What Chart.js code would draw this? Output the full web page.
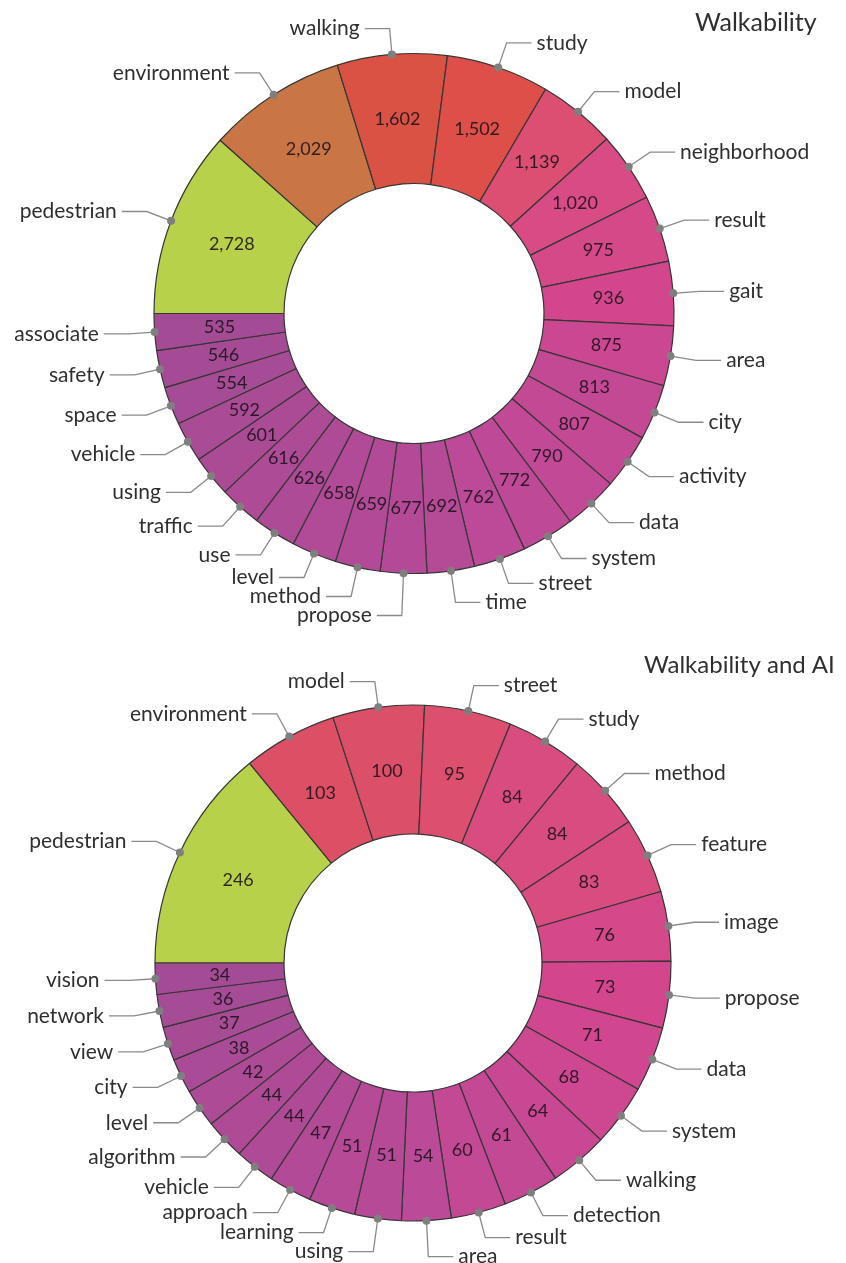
<!DOCTYPE html>
<html>
<head>
<meta charset="utf-8">
<script src="https://cdn.jsdelivr.net/npm/chart.js@4.4.1/dist/chart.umd.min.js"></script>
<style>
  html, body { margin: 0; padding: 0; background: #ffffff; }
  #wrap { position: relative; width: 846px; height: 1263px; }
  canvas { position: absolute; left: 0; }
</style>
</head>
<body>
<div id="wrap">
  <canvas id="walkChart" width="846" height="640" style="top:0px"></canvas>
  <canvas id="aiChart" width="846" height="623" style="top:640px"></canvas>
</div>
<script>
// Term frequencies, listed clockwise starting from the 9 o'clock position
const walkTerms = ['pedestrian', 'environment', 'walking', 'study', 'model', 'neighborhood', 'result', 'gait',
  'area', 'city', 'activity', 'data', 'system', 'street', 'time', 'propose', 'method', 'level', 'use',
  'traffic', 'using', 'vehicle', 'space', 'safety', 'associate'];
const walkCounts = [2728, 2029, 1602, 1502, 1139, 1020, 975, 936, 875, 813, 807, 790, 772, 762, 692, 677,
  659, 658, 626, 616, 601, 592, 554, 546, 535];

const aiTerms = ['pedestrian', 'environment', 'model', 'street', 'study', 'method', 'feature', 'image',
  'propose', 'data', 'system', 'walking', 'detection', 'result', 'area', 'using', 'learning', 'approach',
  'vehicle', 'algorithm', 'level', 'city', 'view', 'network', 'vision'];
const aiCounts = [246, 103, 100, 95, 84, 84, 83, 76, 73, 71, 68, 64, 61, 60, 54, 51, 51, 47, 44, 44, 42,
  38, 37, 36, 34];

const FONT = 'Lato, "Open Sans", sans-serif';

// Sequential colour ramp: low counts purple -> magenta -> red -> orange -> lime for the top term
const rampStops = [
  [0.00, '#a44b95'], [0.10, '#bc4a98'], [0.18, '#d3468f'], [0.22, '#d84b84'],
  [0.28, '#dc4f70'], [0.44, '#dd4f48'], [0.49, '#d95243'], [0.68, '#c97545'], [1.00, '#b7d14a']
];
function hexRgb(h) {
  const n = parseInt(h.slice(1), 16);
  return [(n >> 16) & 255, (n >> 8) & 255, n & 255];
}
function rampColor(v, lo, hi) {
  const t = (v - lo) / (hi - lo);
  for (let i = 1; i < rampStops.length; i++) {
    const [t1, c1] = rampStops[i];
    const [t0, c0] = rampStops[i - 1];
    if (t <= t1) {
      const f = (t - t0) / (t1 - t0);
      const a = hexRgb(c0), b = hexRgb(c1);
      return `rgb(${a.map((x, k) => Math.round(x + (b[k] - x) * f)).join(',')})`;
    }
  }
  return rampStops[rampStops.length - 1][1];
}

// Draws the in-slice counts, the dotted leader lines with term labels, and the chart heading
const ringLabels = {
  id: 'ringLabels',
  afterDatasetsDraw(chart, args, opts) {
    const ctx = chart.ctx;
    const arcs = chart.getDatasetMeta(0).data;
    const labels = chart.data.labels;
    const values = chart.data.datasets[0].data;
    if (!arcs.length) return;
    const cy = arcs[0].y;
    ctx.save();

    // counts inside the ring
    ctx.font = `${opts.valueSize}px ${FONT}`;
    ctx.fillStyle = opts.valueColor;
    ctx.textAlign = 'center';
    ctx.textBaseline = 'middle';
    arcs.forEach((arc, i) => {
      const mid = (arc.startAngle + arc.endAngle) / 2;
      const r = (arc.innerRadius + arc.outerRadius) / 2;
      ctx.fillText(values[i].toLocaleString('en-US'), arc.x + r * Math.cos(mid), arc.y + r * Math.sin(mid));
    });

    // leader geometry
    ctx.font = `${opts.labelSize}px ${FONT}`;
    const items = arcs.map((arc, i) => {
      const mid = (arc.startAngle + arc.endAngle) / 2;
      const dx = Math.cos(mid), dy = Math.sin(mid);
      const px = arc.x + arc.outerRadius * dx, py = arc.y + arc.outerRadius * dy;
      return {
        text: labels[i], dx, dy, px, py, side: dx < 0 ? -1 : 1,
        ex: px + opts.tick * dx, ey: py + opts.tick * dy,
        w: ctx.measureText(labels[i]).width
      };
    });
    const span = it => {
      const far = it.ex + it.side * (opts.arm + opts.textGap + it.w);
      return it.side > 0 ? [it.ex, far] : [far, it.ex];
    };
    const overlapX = (a, b) => { const s = span(a), t = span(b); return s[0] < t[1] && t[0] < s[1]; };
    const moveTo = (it, y) => {
      it.ey = y;
      if (Math.abs(it.dy) > 0.2) it.ex = it.px + it.dx * (y - it.py) / it.dy;
    };
    [-1, 1].forEach(side => {
      const lower = items.filter(it => it.side === side && it.ey > cy).sort((a, b) => a.ey - b.ey);
      const upper = items.filter(it => it.side === side && it.ey <= cy).sort((a, b) => b.ey - a.ey);
      const placedLow = [];
      lower.forEach(it => {
        placedLow.forEach(p => {
          if (overlapX(it, p) && it.ey < p.ey + opts.minGap) moveTo(it, p.ey + opts.minGap);
        });
        placedLow.push(it);
      });
      const placedUp = [];
      upper.forEach(it => {
        placedUp.forEach(p => {
          if (overlapX(it, p) && it.ey > p.ey - opts.minGap) moveTo(it, p.ey - opts.minGap);
        });
        placedUp.push(it);
      });
    });

    // leader lines, dots and term labels
    items.forEach(it => {
      const x2 = it.ex + it.side * opts.arm;
      ctx.strokeStyle = opts.lineColor;
      ctx.lineWidth = opts.lineWidth;
      ctx.beginPath();
      ctx.moveTo(it.px, it.py);
      ctx.lineTo(it.ex, it.ey);
      ctx.lineTo(x2, it.ey);
      ctx.stroke();
      ctx.fillStyle = opts.dotColor;
      ctx.beginPath();
      ctx.arc(it.px, it.py, opts.dotRadius, 0, Math.PI * 2);
      ctx.fill();
      ctx.fillStyle = opts.labelColor;
      ctx.textAlign = it.side > 0 ? 'left' : 'right';
      ctx.textBaseline = 'middle';
      ctx.fillText(it.text, x2 + it.side * opts.textGap, it.ey);
    });

    // heading
    ctx.font = `${opts.headingSize}px ${FONT}`;
    ctx.fillStyle = opts.labelColor;
    ctx.textAlign = 'left';
    ctx.textBaseline = 'alphabetic';
    ctx.fillText(opts.heading, opts.headingX, opts.headingY);
    ctx.restore();
  }
};

function makeRing(canvasId, terms, counts, cfg) {
  const lo = Math.min(...counts), hi = Math.max(...counts);
  const half = 270;
  return new Chart(document.getElementById(canvasId), {
    type: 'doughnut',
    data: {
      labels: terms,
      datasets: [{
        data: counts,
        backgroundColor: counts.map(v => rampColor(v, lo, hi)),
        borderColor: '#363636',
        borderWidth: 1.2
      }]
    },
    options: {
      responsive: false,
      animation: false,
      rotation: -90,
      radius: cfg.radius,
      cutout: '50%',
      layout: {
        padding: {
          left: cfg.cx - half,
          right: 846 - cfg.cx - half,
          top: cfg.cy - half,
          bottom: cfg.height - cfg.cy - half
        }
      },
      plugins: {
        legend: { display: false },
        tooltip: { enabled: false },
        ringLabels: {
          heading: cfg.heading, headingX: cfg.headingX, headingY: cfg.headingY, headingSize: cfg.headingSize,
          valueSize: 18, valueColor: 'rgba(25,18,25,0.88)',
          labelSize: 21, labelColor: '#2f2f2f',
          tick: 26, arm: 25, textGap: 5, minGap: 19,
          lineColor: '#8a8a8a', lineWidth: 1.3, dotColor: '#7f7f7f', dotRadius: 4
        }
      }
    },
    plugins: [ringLabels]
  });
}

makeRing('walkChart', walkTerms, walkCounts, {
  cx: 414, cy: 313.5, radius: 260, height: 640,
  heading: 'Walkability', headingX: 695, headingY: 31, headingSize: 25
});
makeRing('aiChart', aiTerms, aiCounts, {
  cx: 413, cy: 323, radius: 258, height: 623,
  heading: 'Walkability and AI', headingX: 644, headingY: 33, headingSize: 24
});
</script>
</body>
</html>
